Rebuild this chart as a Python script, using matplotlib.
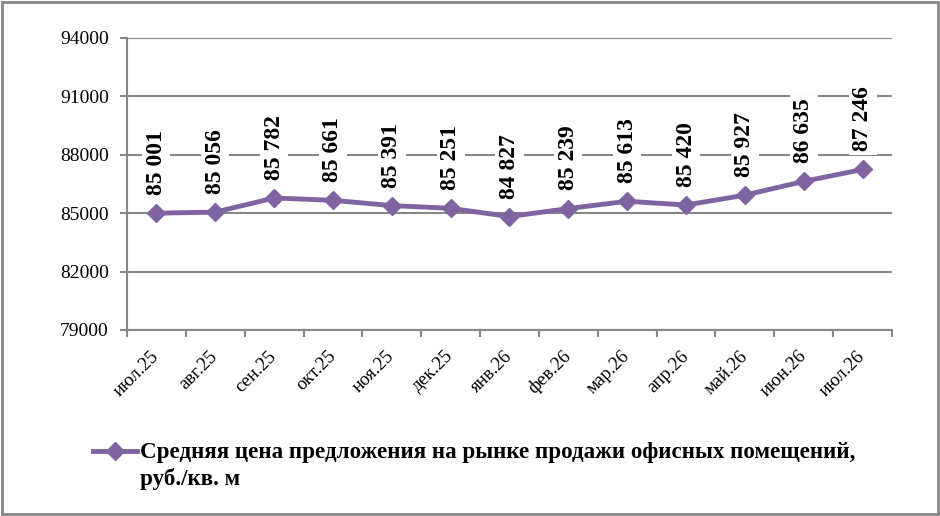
import matplotlib.pyplot as plt
import matplotlib.lines as mlines
import matplotlib.patches as mpatches
import numpy as np

plt.rcParams['font.family'] = ['Liberation Serif', 'DejaVu Serif']

# данные
months = ['июл.25', 'авг.25', 'сен.25', 'окт.25', 'ноя.25', 'дек.25', 'янв.26',
          'фев.26', 'мар.26', 'апр.26', 'май.26', 'июн.26', 'июл.26']
prices = [85001, 85056, 85782, 85661, 85391, 85251, 84827,
          85239, 85613, 85420, 85927, 86635, 87246]
yticks = [79000, 82000, 85000, 88000, 91000, 94000]
series_name = 'Средняя цена предложения на рынке продажи офисных помещений,\nруб./кв. м'

grey = '#878787'
purple = '#8064A2'

fig = plt.figure(figsize=(9.4, 5.16), dpi=100)
ax = fig.add_axes([127/940, 1 - 330/516, (892 - 127)/940, (330 - 38)/516])

x = np.arange(len(months))
ax.plot(x, prices, color=purple, lw=3.5, marker='D', markersize=9,
        zorder=3, clip_on=False)

for xi, v in zip(x, prices):
    txt = f'{v // 1000} {v % 1000:03d}'
    ax.annotate(txt, (xi, v), xytext=(0, 13), textcoords='offset points',
                rotation=90, ha='center', va='bottom', fontsize=17,
                fontweight='bold', zorder=4,
                bbox=dict(boxstyle='square,pad=0.15', fc='white', ec='none'))

ax.set_xlim(-0.5, len(months) - 0.5)
ax.set_ylim(yticks[0], yticks[-1])
ax.set_yticks(yticks)
ax.set_yticklabels([str(t) for t in yticks], fontsize=14)
ax.set_xticks(x)
ax.set_xticklabels(months, rotation=45, ha='right', va='center',
                   rotation_mode='anchor', fontsize=13.5)
ax.set_xticks(np.arange(-0.5, len(months), 1), minor=True)
ax.tick_params(axis='x', which='major', length=0, pad=17)
ax.tick_params(axis='x', which='minor', length=5, width=1.5, color=grey)
ax.tick_params(axis='y', length=5, width=1.5, color=grey, pad=8)

ax.grid(axis='y', color=grey, lw=1.5, zorder=0)
ax.set_axisbelow(True)
for s in ['top', 'right']:
    ax.spines[s].set_visible(False)
for s in ['left', 'bottom']:
    ax.spines[s].set_color(grey)
    ax.spines[s].set_linewidth(1.5)

# легенда
ly = 1 - 451/516
fig.add_artist(mlines.Line2D([93/940, 137/940], [ly, ly], color=purple,
                             lw=3.5, transform=fig.transFigure))
fig.add_artist(mlines.Line2D([115/940], [ly], color=purple, lw=0,
                             marker='D', markersize=9, transform=fig.transFigure))
fig.text(140/940, 1 - 442/516, series_name, fontsize=16.6, fontweight='bold',
         ha='left', va='top', linespacing=1.32)

# рамка
fig.add_artist(mpatches.Rectangle((2/940, 2/516), 936/940, 512/516,
                                  transform=fig.transFigure, fill=False,
                                  ec=grey, lw=2))

plt.savefig('out.png', dpi=100)
